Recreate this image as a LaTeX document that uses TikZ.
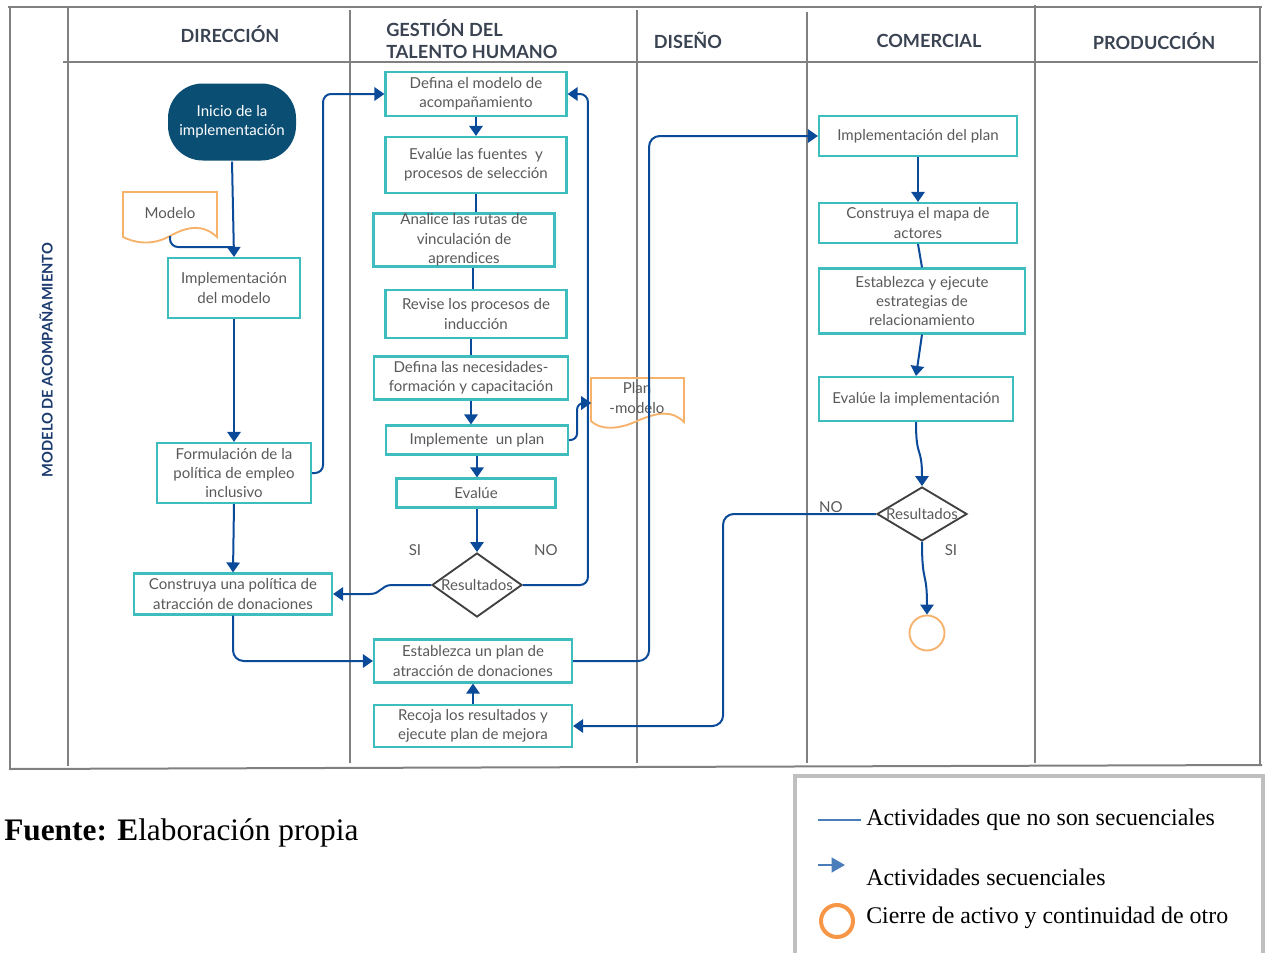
\documentclass[tikz,border=0pt]{standalone}
\usepackage{fontspec}
\setmainfont{Lato}
\newfontfamily\legendfont{Liberation Serif}
\usetikzlibrary{arrows.meta,shapes.geometric}
\definecolor{boxteal}{HTML}{3DBDBD}
\definecolor{boxtext}{HTML}{595959}
\definecolor{flowblue}{HTML}{0B4A99}
\definecolor{startblue}{HTML}{0A4E74}
\definecolor{docorange}{HTML}{F6B26B}
\definecolor{lanegray}{HTML}{808080}
\definecolor{headtext}{HTML}{3A4352}
\definecolor{sidetext}{HTML}{1B3A6E}
\definecolor{legblue}{HTML}{4A7EBB}
\definecolor{legorange}{HTML}{F79646}
\definecolor{leggray}{HTML}{BFBFBF}
\begin{document}
\begin{tikzpicture}[x=0.75pt,y=-0.75pt,
  wh/.style 2 args={minimum width=#1*0.75pt, minimum height=#2*0.75pt},
  txt/.style={text=boxtext, font=\fontsize{11.3}{14.6}\selectfont, align=center, inner sep=0pt},
  box/.style={txt, draw=boxteal, line width=1.6pt, rectangle},
  diam/.style={diamond, draw=black!75, line width=1.4pt, inner sep=0pt},
  head/.style={text=headtext, font=\fontsize{13.6}{17}\selectfont\bfseries, inner sep=0pt},
  lane/.style={draw=lanegray, line width=1.5pt},
  docline/.style={draw=docorange, line width=1.4pt},
  con/.style={draw=flowblue, line width=1.5pt},
  arr/.style={con, -{Triangle[width=10pt,length=7.5pt]}},
  lbl/.style={text=boxtext, font=\fontsize{11.3}{13}\selectfont, inner sep=0pt},
  legtext/.style={font=\legendfont\fontsize{17.9}{21}\selectfont, anchor=west, inner sep=0pt}]
\useasboundingbox (0,0) rectangle (1265,953);

% swimlane frame
\draw[lane] (8,7) -- (1262,7);
\draw[lane] (63,62) -- (1258,62);
\draw[lane] (10,7) -- (10,770);
\draw[lane] (68,7) -- (68,766);
\draw[lane] (350,10) -- (350,763);
\draw[lane] (637,10) -- (637,763);
\draw[lane] (807,12) -- (807,763);
\draw[lane] (1035,5) -- (1035,763);
\draw[lane] (1260,7) -- (1260,765);
\draw[lane] (10,769) -- (1262,765);

% lane titles
\node[head] (h1) at (230,34) {DIRECCIÓN};
\node[head, align=left, anchor=north west] (h2) at (386,19) {GESTIÓN DEL\\TALENTO HUMANO};
\node[head] (h3) at (688,40) {DISEÑO};
\node[head] (h4) at (929,41) {COMERCIAL};
\node[head] (h5) at (1154,41) {PRODUCCIÓN};
\node[rotate=90, text=sidetext, font=\fontsize{11}{13}\selectfont\bfseries, inner sep=0pt] (side) at (46,360) {MODELO DE ACOMPAÑAMIENTO};

% DIRECCIÓN
\node[box, draw=none, fill=startblue, text=white, rounded corners=26pt, wh={128}{77}] (inicio) at (232,122) {Inicio de la\\implementación};
\draw[docline] (123,192) -- (217,192) -- (217,237) .. controls (203,224) and (188,226) .. (170,236) .. controls (152,246) and (135,243) .. (123,237) -- cycle;
\node[txt] (modelo) at (170,213) {Modelo};
\coordinate (mdoc) at (170,236);
\node[box, wh={132}{60}] (impl) at (234,288) {Implementación\\del modelo};
\node[box, wh={154}{60}] (formul) at (234,473) {Formulación de la\\política de empleo\\inclusivo};
\node[box, wh={198}{41}] (constr) at (233,594) {Construya una política de\\atracción de donaciones};

% GESTIÓN DEL TALENTO HUMANO
\node[box, wh={181}{44}] (defmod) at (476,94) {Defina el modelo de\\acompañamiento};
\node[box, wh={181}{56}] (evfuen) at (476,165) {Evalúe las fuentes\ \ y\\procesos de selección};
\node[box, wh={181}{53}] (analice) at (464,240) {};
\node[txt] (analicetxt) at (464,240) {Analice las rutas de\\vinculación de\\aprendices};
\node[box, wh={181}{48}] (revise) at (476,314) {Revise los procesos de\\inducción};
\node[box, wh={194}{43}] (defnec) at (471,378) {Defina las necesidades-\\formación y capacitación};
\node[box, wh={182}{29}] (implem) at (477,440) {Implemente\ \ un plan};
\node[box, wh={159}{29}] (evalue) at (476,493) {Evalúe};
\node[diam, wh={90}{64}] (res1) at (477,585) {};
\node[txt] (res1txt) at (477,585) {Resultados};
\node[box, wh={198}{43}] (establ) at (473,661) {Establezca un plan de\\atracción de donaciones};
\node[box, wh={198}{42}] (recoja) at (473,726) {Recoja los resultados y\\ejecute plan de mejora};
\node[lbl] (si1) at (415,550) {SI};
\node[lbl] (no1) at (546,550) {NO};

% DISEÑO
\node[wh={93}{50}, inner sep=0pt] (plan) at (638,403) {};
\draw[docline] (591,378) -- (684,378) -- (684,422) .. controls (672,410) and (658,412) .. (637,421) .. controls (618,430) and (600,430) .. (591,421) -- cycle;
\node[txt] (plantxt) at (637,398) {Plan\\-modelo};

% COMERCIAL
\node[box, wh={198}{40}] (implplan) at (918,136) {Implementación del plan};
\node[box, wh={198}{40}] (mapa) at (918,223) {Construya el mapa de\\actores};
\node[box, wh={206}{65}] (estrat) at (922,301) {Establezca y ejecute\\estrategias de\\relacionamiento};
\node[box, wh={194}{44}] (evimpl) at (916,399) {Evalúe la implementación};
\node[diam, wh={90}{54}] (res2) at (922,514) {};
\node[txt] (res2txt) at (922,514) {Resultados};
\node[circle, draw=docorange, line width=1.4pt, minimum size=35*0.75pt, inner sep=0pt] (fin) at (927,633) {};
\node[lbl] (no2) at (831,507) {NO};
\node[lbl] (si2) at (951,550) {SI};

% connectors
\draw[arr] (inicio.south) -- (impl.north);
\coordinate (jm) at (234,247);
\draw[con, rounded corners=6pt] (mdoc) |- (jm);
\draw[arr] (impl.south) -- (formul.north);
\draw[arr, rounded corners=6pt] (formul.east) -- ++(11,0) |- (defmod.west);
\draw[arr] (formul.south) -- (constr.north);
\draw[arr] (defmod.south) -- (evfuen.north);
\draw[con] (evfuen.south) -- (evfuen.south |- analice.north);
\draw[con] (revise.north -| 473,0) -- (analice.south -| 473,0);
\draw[con] (defnec.north |- revise.south) -- (defnec.north);
\draw[arr] (defnec.south) -- (defnec.south |- implem.north);
\draw[arr, rounded corners=5pt] (implem.east) -- ++(8,0) |- (plan.west);
\draw[arr] (implem.south) -- (implem.south |- evalue.north);
\draw[arr] (evalue.south -| res1.north) -- (res1.north);
\draw[arr] (res1.west) -- (392,585) .. controls (381,585) and (381,594) .. (370,594) -- (constr.east);
\draw[arr, rounded corners=6pt] (res1.east) -- ++(65,0) |- (defmod.east);
\draw[arr, rounded corners=8pt] (constr.south) |- (establ.west);
\draw[arr, rounded corners=8pt] (establ.east) -- ++(76,0) |- (implplan.west);
\draw[arr] (recoja.north) -- (establ.south);
\draw[arr] (implplan.south) -- (mapa.north);
\draw[con] (mapa.south) -- (estrat.north);
\draw[arr] (estrat.south) -- (evimpl.north);
\draw[arr] (evimpl.south) .. controls (916,460) and (922,445) .. (res2.north);
\draw[arr, rounded corners=8pt] (res2.west) -- ++(-153,0) |- (recoja.east);
\draw[arr] (res2.south) .. controls (922,585) and (927,570) .. (fin.north);

% source line
\node[anchor=west, inner sep=0pt, font=\legendfont\fontsize{23.5}{26}\selectfont] (fuente) at (4,833) {\textbf{Fuente: E}laboración propia};

% legend
\draw[draw=leggray, line width=3pt] (795,960) -- (795,776) -- (1263,776) -- (1263,960);
\coordinate (la) at (818,820);
\coordinate (lb) at (861,820);
\draw[draw=legblue, line width=1.2pt] (la) -- (lb);
\coordinate (lc) at (818,865);
\coordinate (ld) at (845,865);
\draw[draw=legblue, line width=1.8pt, -{Triangle[width=11pt,length=10pt]}] (lc) -- (ld);
\node[circle, draw=legorange, line width=3pt, minimum size=32*0.75pt, inner sep=0pt] (lcirc) at (837,921) {};
\node[legtext] (lt1) at (866,820) {Actividades que no son secuenciales};
\node[legtext] (lt2) at (866,877) {Actividades secuenciales};
\node[legtext] (lt3) at (866,918) {Cierre de activo y continuidad de otro};
\end{tikzpicture}
\end{document}
